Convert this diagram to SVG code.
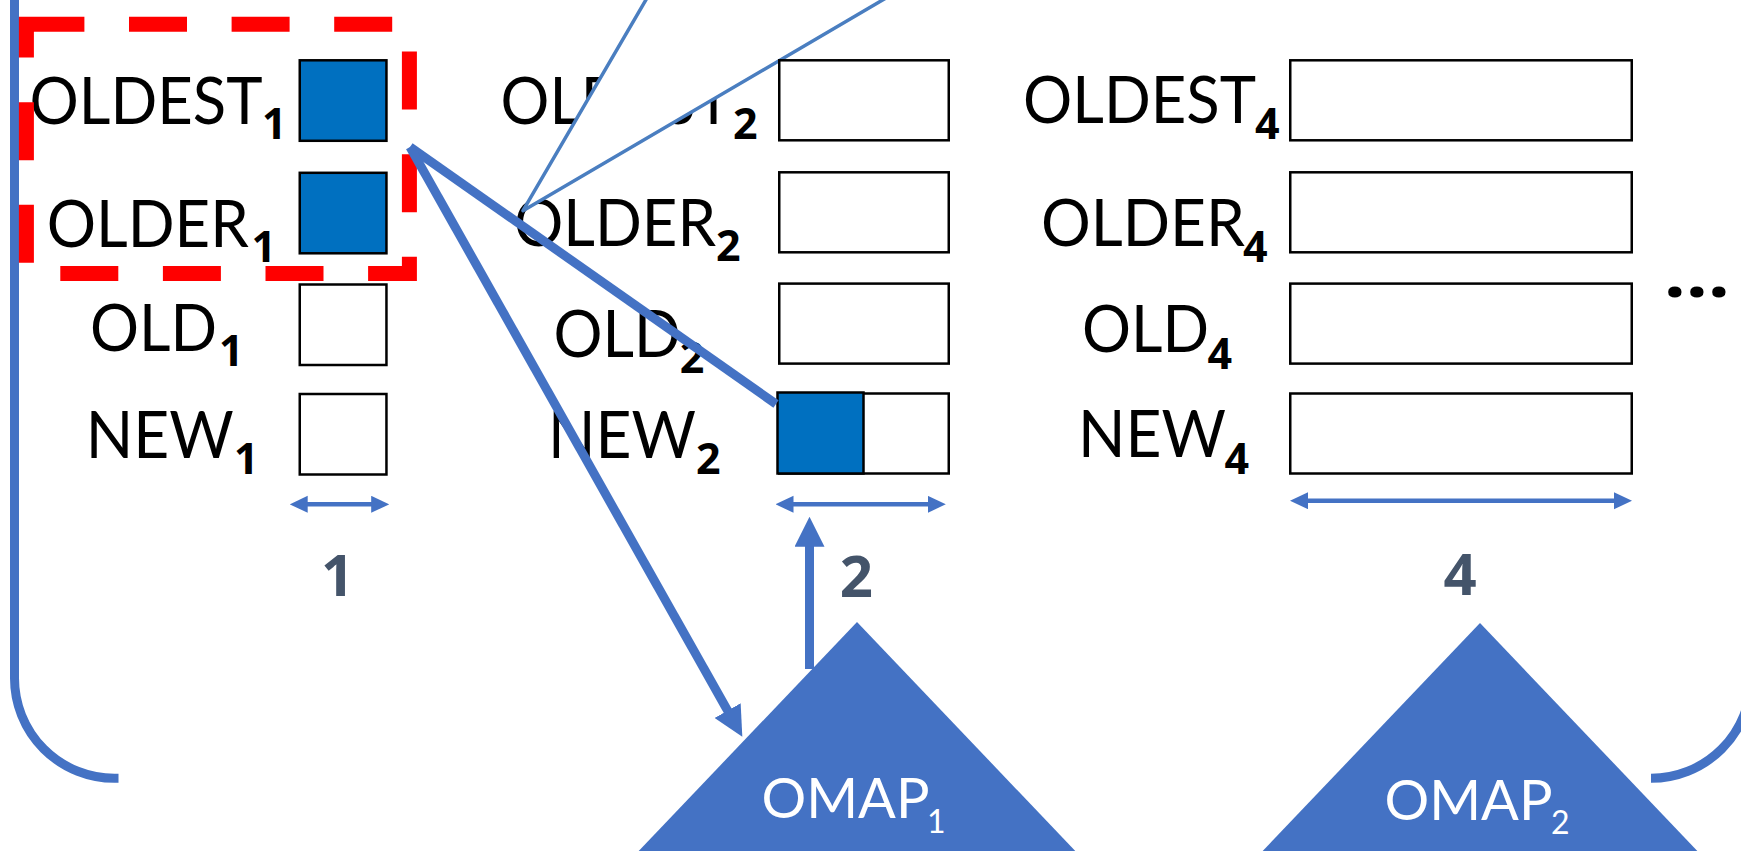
<svg xmlns="http://www.w3.org/2000/svg" width="1741" height="851" viewBox="0 0 1741 851">
  <style>
    .lbl { font-family: Lato, "Liberation Sans", sans-serif; font-size: 66px; fill: #000; }
    .sub { font-family: "Noto Sans", "Open Sans", sans-serif; font-size: 43px; font-weight: 700; }
    .num { font-family: "Noto Sans", "Open Sans", sans-serif; font-size: 58px; font-weight: 700; fill: #44546A; text-anchor: middle; }
    .dots { font-family: "Noto Sans", "Open Sans", sans-serif; font-size: 66px; font-weight: 700; fill: #000; }
    .omap { font-family: Lato, "Liberation Sans", sans-serif; font-size: 56px; fill: #fff; }
    .osub { font-size: 32px; }
    .cell { fill: #fff; stroke: #000; stroke-width: 2.5; }
    .full { fill: #0070C0; stroke: #000; stroke-width: 2.5; }
    .tri { fill: #4472C4; }
    .thick { fill: none; stroke: #4472C4; stroke-width: 9; }
    .span { fill: none; stroke: #4472C4; stroke-width: 4.5; }
    .frame { fill: none; stroke: #4472C4; stroke-width: 9; }
    .cone { fill: #fff; stroke: #4A7EC0; stroke-width: 3.5; stroke-linejoin: round; }
  </style>
  <defs>
    <marker id="bigHead" markerUnits="userSpaceOnUse" markerWidth="30" markerHeight="30" refX="10" refY="15" orient="auto">
      <path d="M0,0 L30,15 L0,30 z" fill="#4472C4"/>
    </marker>
    <marker id="smallHead" markerUnits="userSpaceOnUse" markerWidth="18" markerHeight="18" refX="8" refY="8.5" orient="auto-start-reverse">
      <path d="M0,0 L18,8.5 L0,17 z" fill="#4472C4"/>
    </marker>
  </defs>

  <!-- enclosing bracket -->
  <g id="bracket">
    <path class="frame" d="M14.5,0 L14.5,678.3 A100,100 0 0 0 114.5,778.3 L118.5,778.3"/>
    <path class="frame" d="M1651,778.3 A100,100 0 0 0 1751,678.3 L1751,0"/>
  </g>

  <!-- size 1 -->
  <g id="size1">
    <text class="lbl" x="29.5" y="124"><tspan textLength="233" lengthAdjust="spacingAndGlyphs">OLDEST</tspan><tspan class="sub" x="262" y="139">1</tspan></text>
    <text class="lbl" x="46.8" y="246.7"><tspan textLength="202" lengthAdjust="spacingAndGlyphs">OLDER</tspan><tspan class="sub" x="251.5" y="261.7">1</tspan></text>
    <text class="lbl" x="90" y="351"><tspan textLength="127" lengthAdjust="spacingAndGlyphs">OLD</tspan><tspan class="sub" x="219" y="366">1</tspan></text>
    <text class="lbl" x="85.8" y="458.3"><tspan textLength="148" lengthAdjust="spacingAndGlyphs">NEW</tspan><tspan class="sub" x="234" y="474.3">1</tspan></text>
    <rect class="full" x="299.75" y="60.3" width="86.7" height="80.5"/>
    <rect class="full" x="299.75" y="172.8" width="86.7" height="80.5"/>
    <rect class="cell" x="299.75" y="284.5" width="86.7" height="80.5"/>
    <rect class="cell" x="299.75" y="394" width="86.7" height="80.5"/>
    <path class="span" d="M299.7,504.3 L379.2,504.3" marker-start="url(#smallHead)" marker-end="url(#smallHead)"/>
    <text class="num" x="337.7" y="595.7">1</text>
  </g>

  <!-- size 2 -->
  <g id="size2">
    <text class="lbl" x="500.6" y="124"><tspan textLength="231" lengthAdjust="spacingAndGlyphs">OLDEST</tspan><tspan class="sub" x="733" y="139.3">2</tspan></text>
    <text class="lbl" x="514" y="245.7"><tspan textLength="202" lengthAdjust="spacingAndGlyphs">OLDER</tspan><tspan class="sub" x="716" y="260.7">2</tspan></text>
    <text class="lbl" x="553.6" y="357.3"><tspan textLength="127" lengthAdjust="spacingAndGlyphs">OLD</tspan><tspan class="sub" x="679.8" y="372.7">2</tspan></text>
    <text class="lbl" x="548" y="458.3"><tspan textLength="148" lengthAdjust="spacingAndGlyphs">NEW</tspan><tspan class="sub" x="696" y="474">2</tspan></text>
  </g>

  <!-- zoom cone over the size-2 labels -->
  <g id="cone">
    <path class="cone" d="M647,-2 L523,210.7 L886,-2"/>
  </g>

  <g id="size2-cells">
    <rect class="cell" x="779.25" y="60.3" width="169.5" height="80"/>
    <rect class="cell" x="779.25" y="172.3" width="169.5" height="80"/>
    <rect class="cell" x="779.25" y="283.6" width="169.5" height="80"/>
    <rect class="cell" x="779.25" y="393.5" width="169.5" height="80"/>
    <rect class="full" x="777.5" y="392.5" width="86" height="81"/>
    <path class="span" d="M785.5,504.3 L935.8,504.3" marker-start="url(#smallHead)" marker-end="url(#smallHead)"/>
    <text class="num" x="856.3" y="596.7">2</text>
  </g>

  <!-- size 4 -->
  <g id="size4">
    <text class="lbl" x="1023" y="123.3"><tspan textLength="233" lengthAdjust="spacingAndGlyphs">OLDEST</tspan><tspan class="sub" x="1255" y="139.3">4</tspan></text>
    <text class="lbl" x="1041" y="245.7"><tspan textLength="204" lengthAdjust="spacingAndGlyphs">OLDER</tspan><tspan class="sub" x="1243" y="261.7">4</tspan></text>
    <text class="lbl" x="1082" y="351.7"><tspan textLength="127" lengthAdjust="spacingAndGlyphs">OLD</tspan><tspan class="sub" x="1207.5" y="369.3">4</tspan></text>
    <text class="lbl" x="1078" y="457.3"><tspan textLength="148" lengthAdjust="spacingAndGlyphs">NEW</tspan><tspan class="sub" x="1224.5" y="474">4</tspan></text>
    <rect class="cell" x="1290.25" y="60.3" width="341.5" height="80"/>
    <rect class="cell" x="1290.25" y="172.3" width="341.5" height="80"/>
    <rect class="cell" x="1290.25" y="283.6" width="341.5" height="80"/>
    <rect class="cell" x="1290.25" y="393.5" width="341.5" height="80"/>
    <path class="span" d="M1300,500.7 L1622,500.7" marker-start="url(#smallHead)" marker-end="url(#smallHead)"/>
    <text class="num" x="1460" y="595">4</text>
  </g>

  <g id="more">
    <text class="dots" x="1664" y="297" textLength="66" lengthAdjust="spacingAndGlyphs">…</text>
  </g>

  <!-- selection of the two oldest size-1 slots -->
  <g id="selection">
    <rect x="26.4" y="24.2" width="383" height="249.3" fill="none" stroke="#FF0000" stroke-width="15" stroke-dasharray="58 44.6"/>
  </g>

  <!-- connectors -->
  <g id="connectors">
    <path class="thick" d="M410,147 L776,404"/>
    <path class="thick" d="M410,147 L732.5,719.3" marker-end="url(#bigHead)"/>
    <path class="thick" d="M809.5,669 L809.5,536.7" marker-end="url(#bigHead)"/>
  </g>

  <!-- OMAP trees -->
  <g id="omap1">
    <polygon class="tri" points="857,622 1122,900 592,900"/>
    <text class="omap" x="761.5" y="818.3"><tspan textLength="168" lengthAdjust="spacingAndGlyphs">OMAP</tspan><tspan class="osub" x="927" y="832.7">1</tspan></text>
  </g>
  <g id="omap2">
    <polygon class="tri" points="1480,623 1745,901 1215,901"/>
    <text class="omap" x="1384.5" y="820"><tspan textLength="168" lengthAdjust="spacingAndGlyphs">OMAP</tspan><tspan class="osub" x="1551" y="834">2</tspan></text>
  </g>
</svg>
